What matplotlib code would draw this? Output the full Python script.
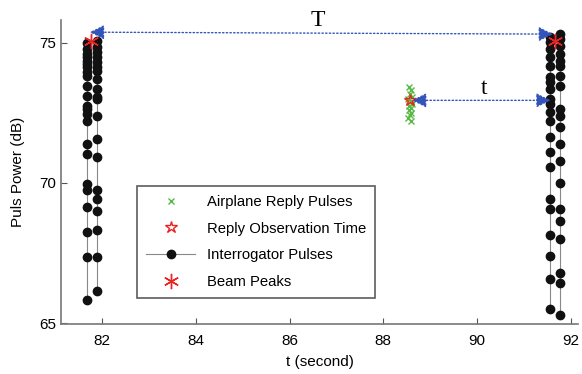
import matplotlib
matplotlib.use("Agg")
import matplotlib.pyplot as plt
import numpy as np

plt.rcParams['font.family'] = ['Liberation Sans', 'DejaVu Sans']

# interrogator pulses, first scan (two chains)
scan1_a_t = 81.68
scan1_a_db = [75.0, 74.76, 74.58, 74.47, 74.33, 74.22, 74.12, 73.94, 73.80, 73.44,
              73.08, 72.72, 72.62, 72.44, 72.19, 71.37, 71.04, 69.94, 69.76, 69.15,
              68.25, 67.36, 65.82]
scan1_b_t = 81.89
scan1_b_db = [75.05, 74.83, 74.65, 74.47, 74.30, 74.12, 73.98, 73.69, 73.34, 73.05,
              72.98, 72.37, 71.55, 70.91, 69.73, 69.44, 68.98, 68.30, 67.37, 66.15]

# interrogator pulses, second scan
scan2_a_t = 91.55
scan2_a_db = [75.20, 75.02, 74.77, 74.48, 74.16, 73.77, 73.59, 73.34, 72.98, 72.80,
              72.52, 72.19, 71.62, 71.08, 70.55, 69.44, 69.08, 68.15, 67.40, 66.58,
              65.51]
scan2_b_t = 91.77
scan2_b_db = [75.30, 75.12, 74.87, 74.59, 74.34, 74.16, 73.80, 73.44, 72.62, 72.37,
              71.98, 71.37, 70.76, 69.98, 69.08, 68.65, 68.01, 66.80, 66.44, 65.30]

# airplane reply pulses
reply_t = [88.55, 88.60, 88.56, 88.61, 88.53, 88.58, 88.62, 88.55, 88.59, 88.54,
           88.60, 88.57, 88.53, 88.58]
reply_db = [73.43, 73.30, 73.15, 73.05, 72.98, 72.90, 72.82, 72.75, 72.66, 72.58,
            72.50, 72.40, 72.30, 72.20]

obs_t = [88.57]
obs_db = [72.94]

peak_t = [81.77, 91.66]
peak_db = [75.07, 75.07]

fig = plt.figure(figsize=(5.82, 3.74), dpi=100)
ax = fig.add_axes([0.105, 0.134, 0.888, 0.813])

h_reply, = ax.plot(reply_t, reply_db, 'x', color='#55bb44', ms=4, mew=1,
                   label='Airplane Reply Pulses')
h_obs, = ax.plot(obs_t, obs_db, '*', mfc='none', mec='#ee2222', ms=9, mew=1,
                 label='Reply Observation Time')
h_int = None
for t, db in [(scan1_a_t, scan1_a_db), (scan1_b_t, scan1_b_db),
              (scan2_a_t, scan2_a_db), (scan2_b_t, scan2_b_db)]:
    h, = ax.plot(np.full(len(db), t), db, '-', color='#888888', lw=0.8,
                 marker='o', ms=6, mfc='#111111', mec='#111111',
                 label='Interrogator Pulses')
    if h_int is None:
        h_int = h
h_peak, = ax.plot(peak_t, peak_db, ls='none', marker=(6, 2, 0), color='#ee2222',
                  ms=11, mew=1, label='Beam Peaks', zorder=5)

arrow_kw = dict(arrowstyle='<|-|>', color='#3355bb', lw=1, ls=':',
                mutation_scale=22, shrinkA=0, shrinkB=0)
ax.annotate('', xy=(81.74, 75.37), xytext=(91.62, 75.30), arrowprops=arrow_kw)
ax.annotate('', xy=(88.61, 72.94), xytext=(91.57, 72.94), arrowprops=arrow_kw)
ax.text(86.6, 75.78, 'T', fontsize=17, family='Liberation Serif',
        ha='center', va='center')
ax.text(90.15, 73.35, 't', fontsize=17, family='Liberation Serif',
        ha='center', va='center')

ax.set_xlim(81.13, 92.15)
ax.set_ylim(64.97, 75.81)
ax.set_xticks([82, 84, 86, 88, 90, 92])
ax.set_yticks([65, 70, 75])
ax.tick_params(direction='in', length=4, labelsize=11, color='#555555')
ax.tick_params(axis='x', pad=7)
for s in ['top', 'right']:
    ax.spines[s].set_visible(False)
for s in ['left', 'bottom']:
    ax.spines[s].set_color('#777777')
    ax.spines[s].set_linewidth(1.2)
ax.set_xlabel('t (second)', fontsize=11, labelpad=5)
ax.set_ylabel('Puls Power (dB)', fontsize=11, labelpad=10)

leg = ax.legend(handles=[h_reply, h_obs, h_int, h_peak], loc='lower left',
                bbox_to_anchor=(0.147, 0.086), borderaxespad=0, fontsize=10.7,
                frameon=True, fancybox=False, edgecolor='#333333',
                handlelength=3.3, labelspacing=0.85, borderpad=0.6)
leg.get_frame().set_linewidth(1.2)

fig.savefig('out.png', dpi=100)
